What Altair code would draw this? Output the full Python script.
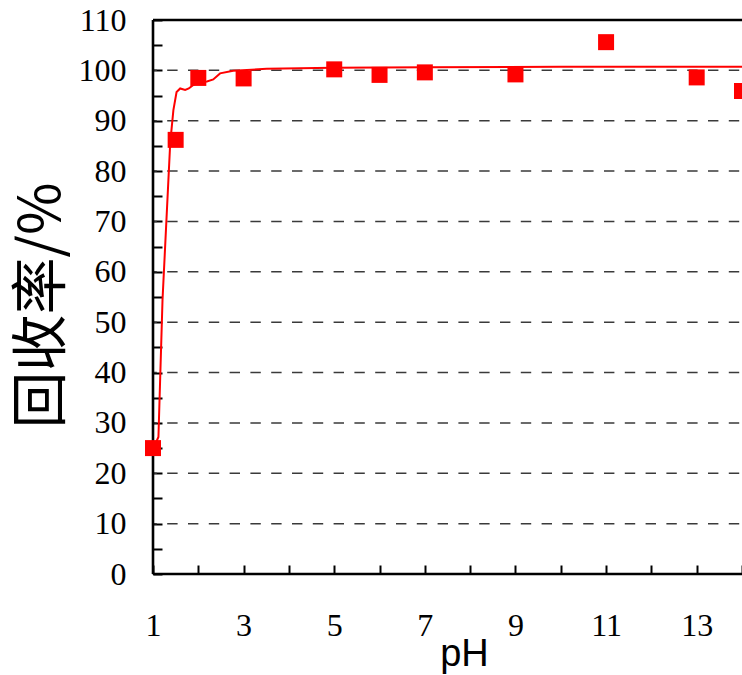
import altair as alt
import pandas as pd

# measured points
ph_points = [1, 1.5, 2, 3, 5, 6, 7, 9, 11, 13, 14]
recovery_points = [25, 86.2, 98.5, 98.4, 100.2, 99.1, 99.6, 99.2, 105.6, 98.6, 95.9]

# fitted curve
ph_curve = [1.0, 1.12, 1.21, 1.38, 1.45, 1.52, 1.60, 1.71, 1.79, 1.89, 2.04, 2.19,
            2.33, 2.48, 2.77, 3.51, 4.98, 7.0, 10.0, 14.0]
recovery_curve = [24.8, 27.2, 54.4, 85.6, 92.1, 95.7, 96.4, 96.1, 96.4, 97.1, 97.7, 97.8,
                  98.2, 99.4, 99.9, 100.3, 100.5, 100.6, 100.7, 100.7]

grid_values = [10, 20, 30, 40, 50, 60, 70, 80, 90, 100]
frame_y = [0, 110]
frame_x = [1]
y_tick_values = list(range(0, 111, 5))
x_tick_values = list(range(1, 15))

W, H = 589, 554

x_scale = alt.Scale(domain=[1, 14], nice=False, zero=False)
y_scale = alt.Scale(domain=[0, 110], nice=False, zero=False)

x_axis = alt.Axis(
    values=x_tick_values,
    labelExpr="datum.value % 2 === 1 ? datum.label : ''",
    domain=False, grid=False, offset=-9,
    ticks=True, tickSize=9, tickWidth=2, tickColor="black",
    labelFont="Liberation Serif", labelFontSize=32, labelColor="black",
    labelBaseline="middle", labelPadding=51, labelOverlap=False, labelFlush=False,
    title="pH", titleFont="Liberation Sans", titleFontSize=38, titleFontWeight="normal",
    titleColor="black", titleX=311, titleY=100, titleAlign="center",
    titleBaseline="alphabetic",
)
y_axis = alt.Axis(
    values=y_tick_values,
    labelExpr="datum.value % 10 === 0 ? datum.label : ''",
    domain=False, grid=False, offset=-9,
    ticks=True, tickSize=9, tickWidth=2, tickColor="black",
    labelFont="Liberation Serif", labelFontSize=32, labelColor="black",
    labelPadding=27, labelOverlap=False, labelFlush=False,
    title="回收率/%", titleFont="Noto Sans CJK SC", titleFontSize=57,
    titleFontWeight="normal", titleColor="black", titleAngle=270,
    titleX=-120, titleY=285, titleAlign="center", titleBaseline="middle",
)

pts = pd.DataFrame({"ph": ph_points, "r": recovery_points})
curve = pd.DataFrame({"ph": ph_curve, "r": recovery_curve})
grid = pd.DataFrame({"r": grid_values})
fy = pd.DataFrame({"r": frame_y})
fx = pd.DataFrame({"ph": frame_x})

grid_layer = alt.Chart(grid).mark_rule(
    color="#3a3a3a", strokeWidth=1.5, strokeDash=[10.4, 10.4], strokeDashOffset=18
).encode(y=alt.Y("r:Q", scale=y_scale, axis=y_axis))

frame_h = alt.Chart(fy).mark_rule(color="black", strokeWidth=2.6).encode(
    y=alt.Y("r:Q", scale=y_scale, axis=y_axis))
frame_v = alt.Chart(fx).mark_rule(color="black", strokeWidth=2.6).encode(
    x=alt.X("ph:Q", scale=x_scale, axis=x_axis))

line_layer = alt.Chart(curve).mark_line(color="#ff0000", strokeWidth=2).encode(
    x=alt.X("ph:Q", scale=x_scale, axis=x_axis),
    y=alt.Y("r:Q", scale=y_scale, axis=y_axis),
)

point_layer = alt.Chart(pts).mark_square(color="#ff0000", size=256, opacity=1, filled=True).encode(
    x=alt.X("ph:Q", scale=x_scale, axis=x_axis),
    y=alt.Y("r:Q", scale=y_scale, axis=y_axis),
)

chart = alt.layer(grid_layer, frame_h, frame_v, line_layer, point_layer).properties(
    width=W, height=H,
    autosize=alt.AutoSizeParams(type="none"),
    padding={"left": 153, "top": 20, "right": 0, "bottom": 101},
    background="white",
).configure_view(stroke=None)

chart.save("out.html", embed_options={"renderer": "svg", "actions": False})
